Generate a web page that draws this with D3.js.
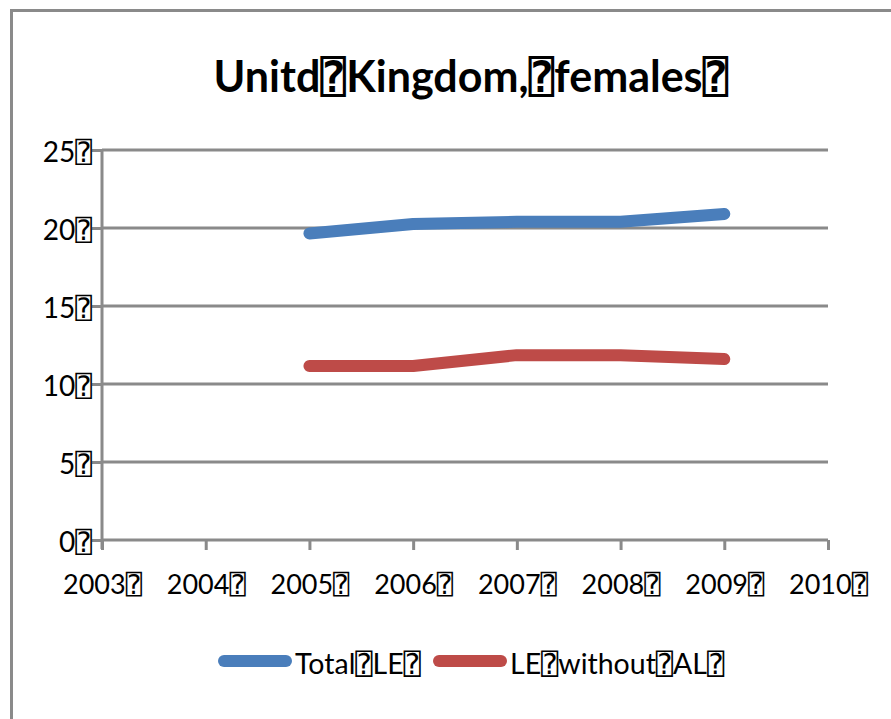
<!DOCTYPE html>
<html>
<head>
<meta charset="utf-8">
<script src="https://cdn.jsdelivr.net/npm/d3@7"></script>
<style>
  html, body { margin: 0; padding: 0; background: #fff; }
  svg { display: block; }
  text { font-family: Lato, "DejaVu Sans", "DejaVu Sans Mono", sans-serif; fill: #000; }
</style>
</head>
<body>
<svg id="chart" width="891" height="719"></svg>
<script>
const BOX = "\u2370";
const title = "Unitd" + BOX + "Kingdom," + BOX + "females" + BOX;
const years = [2003, 2004, 2005, 2006, 2007, 2008, 2009, 2010];
const yTicks = [0, 5, 10, 15, 20, 25];
const seriesNames = ["Total" + BOX + "LE" + BOX, "LE" + BOX + "without" + BOX + "AL" + BOX];
const dataYears = [2005, 2006, 2007, 2008, 2009];
const totalLE = [19.65, 20.25, 20.4, 20.4, 20.9];
const leWithoutAL = [11.15, 11.15, 11.85, 11.85, 11.6];
const colors = ["#4A7EBB", "#BE4B48"];

const svg = d3.select("#chart");

// outer frame (extends beyond window on right/bottom)
svg.append("rect").attr("x", 11.5).attr("y", 10.5).attr("width", 900).attr("height", 730)
  .attr("fill", "none").attr("stroke", "#8a8a8a").attr("stroke-width", 3);

const x = d3.scaleLinear().domain([2003, 2010]).range([102, 828]);
const y = d3.scaleLinear().domain([0, 25]).range([540, 150]);

// gridlines
svg.append("g").selectAll("line").data(yTicks.filter(d => d > 0)).join("line")
  .attr("x1", 102).attr("x2", 828).attr("y1", d => y(d)).attr("y2", d => y(d))
  .attr("stroke", "#8a8a8a").attr("stroke-width", 3);

// y axis
const yAxis = svg.append("g").attr("transform", "translate(102,0)")
  .call(d3.axisLeft(y).tickValues(yTicks).tickSize(10).tickFormat(d => d + BOX));
yAxis.select(".domain").attr("stroke", "#8a8a8a").attr("stroke-width", 3)
  .attr("d", "M0,150V549");
yAxis.selectAll(".tick line").attr("stroke", "#8a8a8a").attr("stroke-width", 3);
yAxis.selectAll(".tick text").attr("font-size", 28).attr("x", -10).attr("dy", "0.4em")
  .attr("font-family", "Lato, 'DejaVu Sans', sans-serif").attr("fill", "#000");

// x axis
const xAxis = svg.append("g").attr("transform", "translate(0,540)")
  .call(d3.axisBottom(x).tickValues(years).tickSize(10).tickFormat(d => d + BOX));
xAxis.select(".domain").attr("stroke", "#8a8a8a").attr("stroke-width", 3).attr("d", "M102,0H828");
xAxis.selectAll(".tick line").attr("stroke", "#8a8a8a").attr("stroke-width", 3);
xAxis.selectAll(".tick text").attr("font-size", 27).attr("y", 35).attr("dy", "0.71em")
  .attr("font-family", "Lato, 'DejaVu Sans', sans-serif").attr("fill", "#000");

// lines
const line = d3.line().x(d => x(d[0])).y(d => y(d[1]));
[totalLE, leWithoutAL].forEach((vals, i) => {
  svg.append("path").datum(dataYears.map((yr, j) => [yr, vals[j]]))
    .attr("d", line).attr("fill", "none").attr("stroke", colors[i])
    .attr("stroke-width", 12).attr("stroke-linecap", "round").attr("stroke-linejoin", "round");
});

// title
svg.append("text").attr("x", 471).attr("y", 92).attr("text-anchor", "middle")
  .attr("font-size", 43).attr("font-weight", "bold").text(title);

// legend
const legX = [218, 433];
seriesNames.forEach((name, i) => {
  svg.append("line").attr("x1", legX[i] + 6).attr("x2", legX[i] + 68)
    .attr("y1", 661).attr("y2", 661).attr("stroke", colors[i]).attr("stroke-width", 12)
    .attr("stroke-linecap", "round");
  svg.append("text").attr("x", legX[i] + 77).attr("y", 674).attr("font-size", 28.5).text(name);
});
</script>
</body>
</html>
